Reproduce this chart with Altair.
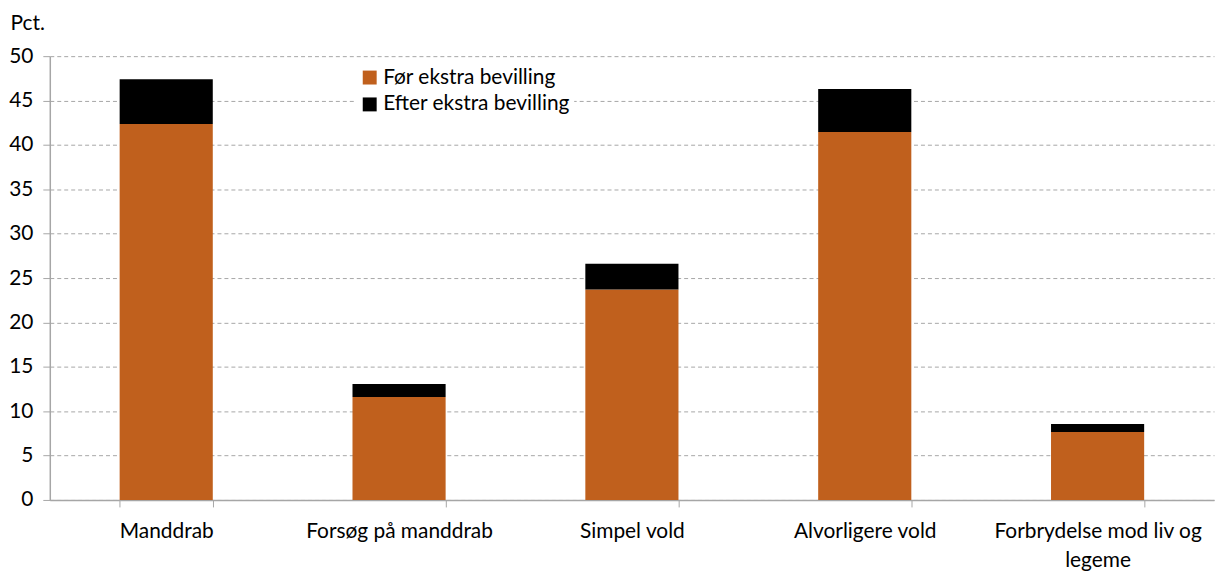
import altair as alt
import pandas as pd

categories = ["Manddrab", "Forsøg på manddrab", "Simpel vold", "Alvorligere vold", "Forbrydelse mod liv og legeme"]
before = [42.35, 11.6, 23.7, 41.45, 7.65]
after_increment = [5.05, 1.45, 2.9, 4.85, 0.9]
series = ["Før ekstra bevilling", "Efter ekstra bevilling"]
colors = ["#C0601D", "#000000"]
y_ticks = [0, 5, 10, 15, 20, 25, 30, 35, 40, 45, 50]

rows = []
for c, b, a in zip(categories, before, after_increment):
    rows.append({"cat": c, "serie": series[0], "val": b, "ord": 0})
    rows.append({"cat": c, "serie": series[1], "val": a, "ord": 1})
df = pd.DataFrame(rows)

FONT = "Lato"
FS = 21

label_expr = ("datum.label == 'Forbrydelse mod liv og legeme' ? "
              "['Forbrydelse mod liv og', 'legeme'] : datum.label")

chart = alt.Chart(df).mark_bar().encode(
    x=alt.X("cat:N", sort=categories, title=None,
            scale=alt.Scale(paddingInner=0.6, paddingOuter=0.3),
            axis=alt.Axis(labelAngle=0, labelFontSize=FS, labelFont=FONT, labelColor="#000000",
                          labelPadding=14, labelLineHeight=29, labelExpr=label_expr, labelLimit=0,
                          tickBand="extent", tickSize=7, tickColor="#A6A6A6",
                          domainColor="#A6A6A6", domainWidth=1.5, grid=False)),
    y=alt.Y("val:Q", stack="zero",
            scale=alt.Scale(domain=[0, 50], nice=False),
            axis=alt.Axis(values=y_ticks, title="Pct.", titleAngle=0, titleX=-40, titleY=-33,
                          titleAlign="left", titleBaseline="middle", titleFont=FONT,
                          titleFontSize=FS, titleFontWeight="normal", titleColor="#000000",
                          labelFontSize=FS, labelFont=FONT, labelColor="#000000", labelPadding=10,
                          tickSize=7, tickColor="#A6A6A6", domainColor="#A6A6A6", domainWidth=1.5,
                          gridColor="#A6A6A6", gridDash=[4, 3], gridWidth=1)),
    color=alt.Color("serie:N", sort=series,
                    scale=alt.Scale(domain=series, range=colors),
                    legend=alt.Legend(title=None, orient="none", legendX=307, legendY=7,
                                      fillColor="#FFFFFF", padding=4, labelLimit=0,
                                      symbolType="square", symbolSize=196, symbolStrokeWidth=0,
                                      labelFontSize=FS, labelFont=FONT, labelColor="#000000",
                                      rowPadding=5, labelOffset=3)),
    order=alt.Order("ord:Q", sort="ascending"),
).properties(
    width=1170, height=446,
    autosize=alt.AutoSizeParams(type="none"),
    padding={"left": 42, "top": 47, "right": 3, "bottom": 70},
).configure_view(stroke=None)

chart.save("out.html", embed_options={"renderer": "svg", "actions": False})
